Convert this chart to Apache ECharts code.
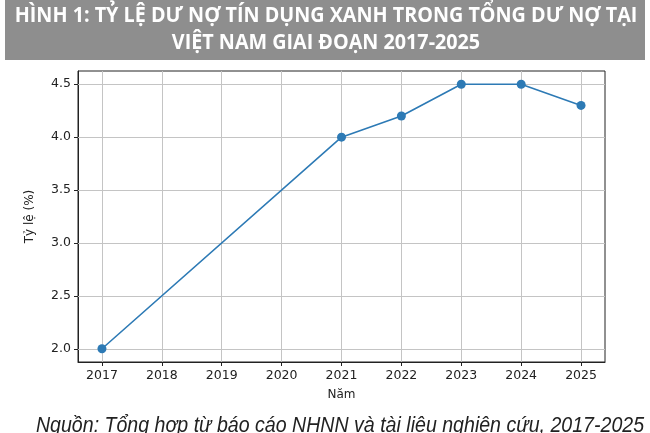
<!DOCTYPE html>
<html><head><meta charset="utf-8">
<script src="https://cdn.jsdelivr.net/npm/echarts@6/dist/echarts.min.js"></script>
<style>html,body{margin:0;padding:0;background:#fff}#c{width:650px;height:433px}</style>
</head><body><div id="c"></div>
<script>
const titleLines = ['HÌNH 1: TỶ LỆ DƯ NỢ TÍN DỤNG XANH TRONG TỔNG DƯ NỢ TẠI', 'VIỆT NAM GIAI ĐOẠN 2017-2025'];
const sourceText = 'Nguồn: Tổng hợp từ báo cáo NHNN và tài liệu nghiên cứu, 2017-2025';
const years = [2017, 2018, 2019, 2020, 2021, 2022, 2023, 2024, 2025];
const ratio = [2.0, null, null, null, 4.0, 4.2, 4.5, 4.5, 4.3];
const yTicks = [2.0, 2.5, 3.0, 3.5, 4.0, 4.5];
const xName = 'Năm';
const yName = 'Tỷ lệ (%)';

const pts = years.map((y, i) => [y, ratio[i]]).filter(p => p[1] !== null);
const chart = echarts.init(document.getElementById('c'));
const tickFont = {fontFamily: 'DejaVu Sans', fontSize: 12.5, color: '#222'};
chart.setOption({
  animation: false,
  graphic: [
    {type: 'rect', shape: {x: 5, y: 0, width: 640, height: 60}, style: {fill: '#8e8e8e'}, z: 0},
    {type: 'text', x: 326, y: 16, scaleX: 0.94, style: {text: titleLines[0], fill: '#fff', font: 'bold 21px "Open Sans", sans-serif', align: 'center', verticalAlign: 'middle'}, z: 1},
    {type: 'text', x: 326, y: 43, scaleX: 0.94, style: {text: titleLines[1], fill: '#fff', font: 'bold 21px "Open Sans", sans-serif', align: 'center', verticalAlign: 'middle'}, z: 1},
    {type: 'text', x: 340, y: 426, scaleX: 0.89, style: {text: sourceText, fill: '#222', font: 'italic 22px "Liberation Sans", sans-serif', align: 'center', verticalAlign: 'middle'}, z: 1}
  ],
  grid: {left: 78, right: 45, top: 71, bottom: 71, show: true, borderColor: '#222', borderWidth: 1},
  xAxis: {
    type: 'value', min: 2016.6, max: 2025.4,
    name: xName, nameLocation: 'middle', nameGap: 27,
    nameTextStyle: {fontFamily: 'DejaVu Sans', fontSize: 12, color: '#222'},
    axisLine: {show: true, lineStyle: {color: '#222'}},
    axisTick: {show: true, customValues: years, length: 4, lineStyle: {color: '#222'}},
    axisLabel: Object.assign({customValues: years, formatter: v => String(v), margin: 7}, tickFont),
    splitLine: {show: false}
  },
  yAxis: {
    type: 'value', min: 1.875, max: 4.625,
    name: yName, nameLocation: 'middle', nameGap: 42, nameRotate: 90,
    nameTextStyle: {fontFamily: 'DejaVu Sans', fontSize: 12, color: '#222'},
    axisLine: {show: true, lineStyle: {color: '#222'}},
    axisTick: {show: true, customValues: yTicks, length: 4, lineStyle: {color: '#222'}},
    axisLabel: Object.assign({customValues: yTicks, formatter: v => v.toFixed(1), margin: 7}, tickFont),
    splitLine: {show: false}
  },
  series: [
    {
      type: 'line', data: [], silent: true, z: 1,
      markLine: {
        silent: true, symbol: 'none', label: {show: false}, animation: false, z: 1,
        lineStyle: {color: '#c4c4c4', type: 'solid', width: 1},
        data: years.map(v => ({xAxis: v})).concat(yTicks.map(v => ({yAxis: v})))
      }
    },
    {
      type: 'line', data: pts, z: 4,
      symbol: 'circle', symbolSize: 9,
      lineStyle: {color: '#2d7ab5', width: 1.6},
      itemStyle: {color: '#2d7ab5'}
    }
  ]
});
</script></body></html>
